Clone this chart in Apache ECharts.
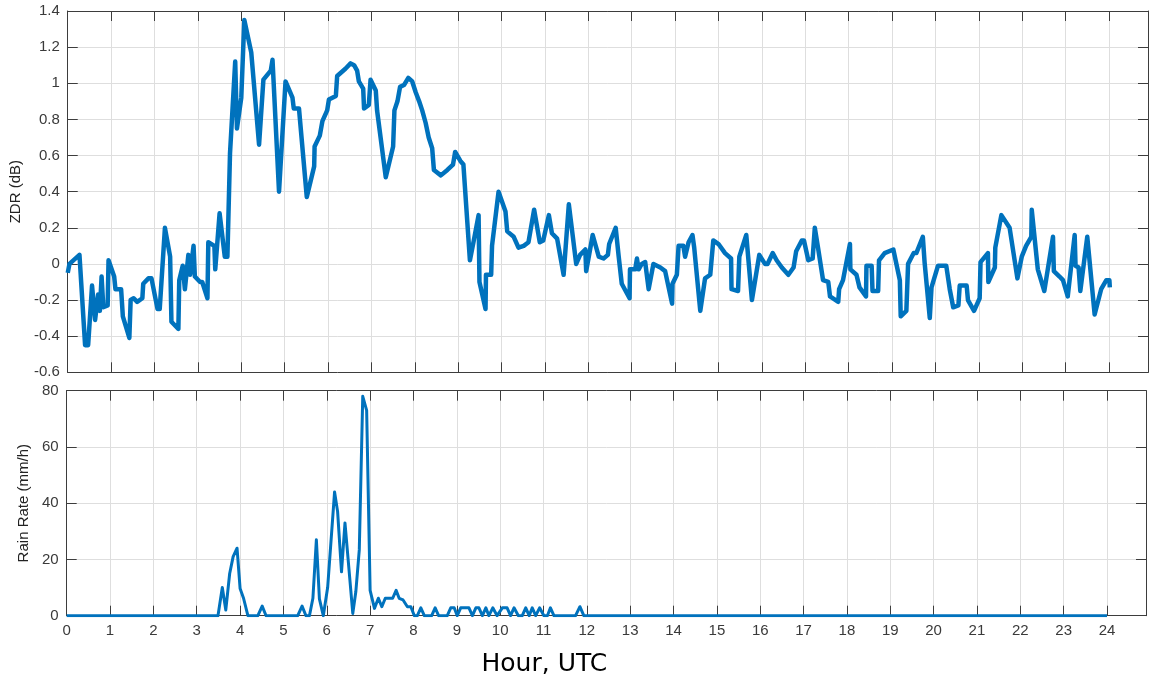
<!DOCTYPE html>
<html>
<head>
<meta charset="utf-8">
<script src="https://cdn.jsdelivr.net/npm/echarts@6/dist/echarts.min.js"></script>
<style>
html,body{margin:0;padding:0;background:#fff;}
#chart{width:1149px;height:681px;}
</style>
</head>
<body>
<div id="chart"></div>
<script>
const zdrTime = [0.00,0.04,0.27,0.40,0.47,0.56,0.63,0.70,0.74,0.78,0.82,0.92,0.94,1.07,1.10,1.23,1.27,1.42,1.45,1.52,1.60,1.72,1.74,1.86,1.93,2.07,2.12,2.24,2.36,2.39,2.55,2.57,2.65,2.70,2.78,2.82,2.90,2.93,3.05,3.10,3.22,3.24,3.38,3.40,3.50,3.62,3.68,3.74,3.86,3.90,4.00,4.07,4.23,4.41,4.51,4.68,4.72,4.87,4.91,5.02,5.18,5.21,5.33,5.51,5.68,5.69,5.81,5.87,5.98,6.02,6.18,6.21,6.40,6.52,6.60,6.67,6.71,6.81,6.83,6.94,6.98,7.10,7.13,7.33,7.36,7.50,7.53,7.60,7.66,7.75,7.85,7.94,8.02,8.10,8.17,8.25,8.32,8.40,8.44,8.60,8.75,8.88,8.93,9.05,9.12,9.27,9.36,9.47,9.49,9.63,9.64,9.76,9.78,9.93,10.09,10.13,10.28,10.39,10.51,10.62,10.75,10.88,10.96,11.09,11.16,11.28,11.43,11.55,11.72,11.81,11.93,11.95,12.10,12.24,12.35,12.45,12.48,12.63,12.70,12.77,12.95,12.96,13.08,13.12,13.16,13.23,13.31,13.39,13.50,13.58,13.66,13.77,13.93,13.94,14.04,14.08,14.19,14.23,14.31,14.40,14.44,14.58,14.62,14.69,14.81,14.88,15.00,15.15,15.29,15.30,15.45,15.48,15.64,15.77,15.94,16.07,16.13,16.25,16.34,16.46,16.61,16.73,16.79,16.92,16.97,17.07,17.17,17.22,17.30,17.41,17.53,17.57,17.76,17.78,17.87,18.03,18.04,18.18,18.25,18.40,18.41,18.53,18.55,18.68,18.70,18.83,19.03,19.18,19.20,19.33,19.37,19.50,19.56,19.71,19.75,19.87,19.91,20.06,20.25,20.33,20.41,20.53,20.56,20.72,20.75,20.89,21.02,21.04,21.21,21.22,21.37,21.38,21.52,21.71,21.89,21.99,22.09,22.21,22.22,22.36,22.51,22.71,22.73,22.86,22.94,23.05,23.21,23.23,23.30,23.34,23.50,23.67,23.82,23.94,24.01,24.02];
const zdrValue = [-0.05,0.00,0.05,-0.45,-0.45,-0.12,-0.31,-0.17,-0.26,-0.07,-0.24,-0.23,0.02,-0.07,-0.14,-0.14,-0.29,-0.41,-0.20,-0.19,-0.21,-0.19,-0.11,-0.08,-0.08,-0.25,-0.25,0.20,0.04,-0.32,-0.36,-0.09,-0.01,-0.14,0.05,-0.06,0.10,-0.07,-0.10,-0.10,-0.19,0.12,0.10,-0.03,0.28,0.04,0.04,0.61,1.12,0.75,0.92,1.35,1.17,0.66,1.02,1.07,1.13,0.40,0.40,1.01,0.92,0.86,0.86,0.37,0.54,0.65,0.71,0.79,0.85,0.91,0.93,1.04,1.08,1.11,1.10,1.07,1.01,0.97,0.86,0.88,1.02,0.96,0.85,0.48,0.48,0.65,0.85,0.90,0.98,0.99,1.03,1.01,0.95,0.90,0.85,0.78,0.70,0.64,0.52,0.49,0.52,0.55,0.62,0.57,0.55,0.02,0.13,0.27,-0.10,-0.25,-0.06,-0.06,0.10,0.40,0.29,0.18,0.15,0.09,0.10,0.12,0.30,0.12,0.13,0.27,0.17,0.14,-0.06,0.33,0.00,0.05,0.08,-0.04,0.16,0.04,0.03,0.05,0.11,0.20,0.04,-0.11,-0.19,-0.03,-0.03,0.03,-0.03,0.00,0.01,-0.14,0.00,-0.01,-0.02,-0.04,-0.22,-0.11,-0.06,0.10,0.10,0.04,0.12,0.16,0.09,-0.26,-0.26,-0.08,-0.06,0.13,0.11,0.06,0.03,-0.14,-0.15,0.04,0.16,-0.20,0.05,0.00,0.00,0.06,0.02,-0.02,-0.06,-0.02,0.07,0.13,0.13,0.02,0.03,0.20,0.08,-0.09,-0.10,-0.18,-0.21,-0.14,-0.09,0.11,-0.03,-0.06,-0.13,-0.18,-0.01,-0.01,-0.15,-0.15,0.02,0.06,0.08,-0.09,-0.29,-0.26,0.00,0.06,0.06,0.15,0.01,-0.30,-0.13,-0.01,-0.01,-0.14,-0.24,-0.23,-0.12,-0.12,-0.20,-0.26,-0.19,0.01,0.06,-0.10,-0.02,0.09,0.27,0.20,-0.08,0.04,0.10,0.15,0.30,-0.03,-0.15,0.15,-0.04,-0.07,-0.09,-0.18,0.16,-0.01,-0.02,-0.15,0.15,-0.28,-0.14,-0.09,-0.09,-0.13];

const rainTime = [0,3.49,3.59,3.67,3.76,3.84,3.93,4.00,4.08,4.18,4.41,4.51,4.60,5.33,5.43,5.52,5.60,5.68,5.76,5.83,5.92,6.02,6.18,6.25,6.34,6.42,6.60,6.67,6.75,6.83,6.92,7.00,7.10,7.19,7.27,7.35,7.52,7.60,7.67,7.76,7.86,7.94,8.02,8.09,8.17,8.25,8.42,8.50,8.58,8.78,8.86,8.94,9.01,9.09,9.28,9.36,9.44,9.51,9.59,9.67,9.74,9.83,9.93,10.05,10.16,10.24,10.32,10.42,10.51,10.59,10.67,10.74,10.82,10.91,11.01,11.09,11.16,11.24,11.74,11.84,11.93,24];
const rainValue = [0,0,10,2,15,21,24,9.7,6.2,0,0,3.4,0,0,3.4,0,0,6.2,27,6,0,10,44,37,15.6,33,0.8,8.5,23.4,78,73,9,2.6,6.2,3.2,6.2,6.2,9,6.2,5.6,3.2,3.2,0,0,2.8,0,0,2.8,0,0,2.8,2.8,0,2.8,2.8,0,2.8,2.8,0,2.8,0,2.8,0,2.8,2.8,0,2.8,0,0,2.8,0,2.8,0,2.8,0,0,2.8,0,0,3.2,0,0];

const hourTicks = [0,1,2,3,4,5,6,7,8,9,10,11,12,13,14,15,16,17,18,19,20,21,22,23,24];
const zdrTicks = [-0.6,-0.4,-0.2,0,0.2,0.4,0.6,0.8,1,1.2,1.4];
const rainTicks = [0,20,40,60,80];

const AX = '#3d3d3d', GRID = '#dedede', LABEL = '#3a3a3a', BLUE = '#0072BD';
const FONT = '"Liberation Sans", Arial, sans-serif';
const XMAX = 24.9;

function xAx(grid, pos, labels, extra) {
  return Object.assign({
    type: 'value', gridIndex: grid, position: pos, min: 0, max: XMAX, interval: 1,
    axisLine: {show: true, onZero: false, lineStyle: {color: AX, width: 1}},
    axisTick: {show: true, inside: true, length: 10, lineStyle: {color: AX}},
    axisLabel: {show: labels, color: LABEL, fontSize: 15, fontFamily: FONT, margin: 8,
      formatter: v => hourTicks.indexOf(Math.round(v * 100) / 100) >= 0 ? String(Math.round(v)) : ''},
    splitLine: {show: pos === 'bottom', lineStyle: {color: GRID, width: 1}}
  }, extra || {});
}
function yAx(grid, pos, ticks, labels, extra) {
  return Object.assign({
    type: 'value', gridIndex: grid, position: pos, min: ticks[0], max: ticks[ticks.length - 1],
    interval: ticks[1] - ticks[0],
    axisLine: {show: true, onZero: false, lineStyle: {color: AX, width: 1}},
    axisTick: {show: true, inside: true, length: 10, lineStyle: {color: AX}},
    axisLabel: {show: labels, color: LABEL, fontSize: 15, fontFamily: FONT, margin: 8,
      formatter: v => String(Math.round(v * 10) / 10)},
    splitLine: {show: pos === 'left', lineStyle: {color: GRID, width: 1}}
  }, extra || {});
}

const chart = echarts.init(document.getElementById('chart'), null, {renderer: 'canvas'});
chart.setOption({
  animation: false,
  backgroundColor: '#ffffff',
  grid: [
    {left: 66.7, right: 1, top: 11, bottom: 308.7},
    {left: 66.7, right: 1, top: 390.7, bottom: 65.3}
  ],
  xAxis: [
    xAx(0, 'bottom', false),
    xAx(0, 'top', false),
    xAx(1, 'bottom', true, {name: 'Hour, UTC', nameLocation: 'middle', nameGap: 36,
      nameTextStyle: {color: '#000', fontSize: 25, fontFamily: '"DejaVu Sans", sans-serif',
        padding: [0, 124, 0, 0]}}),
    xAx(1, 'top', false)
  ],
  yAxis: [
    yAx(0, 'left', zdrTicks, true, {name: 'ZDR (dB)', nameLocation: 'middle', nameGap: 40,
      nameTextStyle: {color: '#222', fontSize: 15, fontFamily: FONT}}),
    yAx(0, 'right', zdrTicks, false),
    yAx(1, 'left', rainTicks, true, {name: 'Rain Rate (mm/h)', nameLocation: 'middle', nameGap: 33,
      nameTextStyle: {color: '#222', fontSize: 15, fontFamily: FONT}}),
    yAx(1, 'right', rainTicks, false)
  ],
  series: [
    {type: 'line', xAxisIndex: 0, yAxisIndex: 0, showSymbol: false, symbol: 'none',
     lineStyle: {color: BLUE, width: 4.5, join: 'round'},
     data: zdrTime.map((t, i) => [t, zdrValue[i]])},
    {type: 'line', xAxisIndex: 2, yAxisIndex: 2, showSymbol: false, symbol: 'none',
     lineStyle: {color: BLUE, width: 3, join: 'round'},
     data: rainTime.map((t, i) => [t, rainValue[i]])}
  ]
});
</script>
</body>
</html>
